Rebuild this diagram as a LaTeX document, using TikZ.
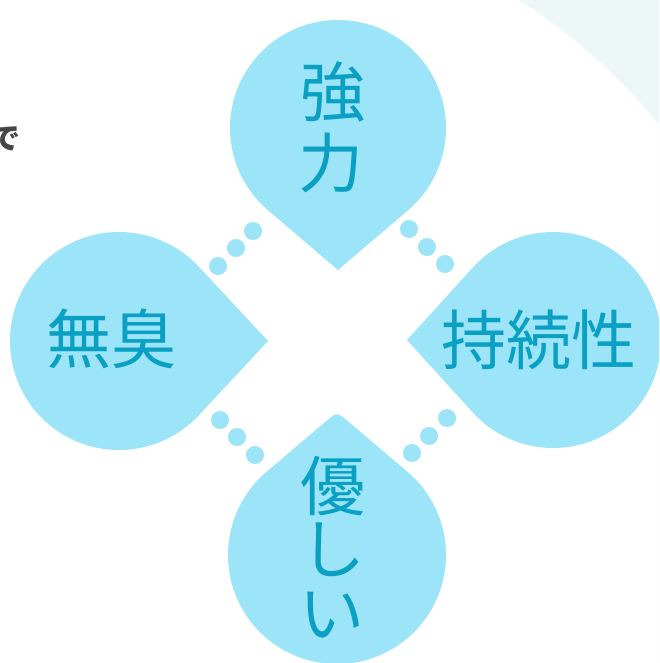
\documentclass[tikz,border=0pt]{standalone}
\usepackage{fontspec}
\newfontfamily\cjk{Noto Sans CJK JP}
\definecolor{dropc}{RGB}{156,228,248}
\definecolor{txtc}{RGB}{10,160,195}
\definecolor{bgc}{RGB}{238,247,247}
\definecolor{dtc}{RGB}{70,70,70}
\begin{document}
\begin{tikzpicture}[x=1pt,y=-1pt,
  dropfill/.style={fill=dropc},
  dot/.style={circle,fill=dropc,minimum size=18pt,inner sep=0pt},
  lbl/.style={font=\cjk\fontsize{65}{65}\selectfont, text=txtc, inner sep=0pt}]
\useasboundingbox (0,0) rectangle (659,663);
\begin{scope}
  \clip (0,0) rectangle (659,663);
  \fill[bgc, even odd rule] (0,0) rectangle (659,663) (200,500) circle[radius=593];
  % top drop
  \begin{scope}[shift={(338,128)}, rotate=-90]
    \fill[dropfill] (142,0) -- (40.5:108) arc[start angle=40.5, end angle=319.5, radius=108] -- cycle;
  \end{scope}
  % left drop
  \begin{scope}[shift={(119,341)}, rotate=0]
    \fill[dropfill] (149,0) -- (43:109) arc[start angle=43, end angle=317, radius=109] -- cycle;
  \end{scope}
  % right drop
  \begin{scope}[shift={(553,340)}, rotate=180]
    \fill[dropfill] (146,0) -- (42.3:108) arc[start angle=42.3, end angle=317.7, radius=108] -- cycle;
  \end{scope}
  % bottom drop (rounded tip)
  \begin{scope}[shift={(337,555)}, rotate=90]
    \fill[dropfill] (133.9,10.7) .. controls (143,0) .. (133.9,-10.7) -- (-40.3:109)
      arc[start angle=-40.3, end angle=-319.7, radius=109] -- cycle;
  \end{scope}
\end{scope}
% dots
\node[dot] (d1) at (253,231) {};
\node[dot] (d2) at (236,248) {};
\node[dot] (d3) at (218,266) {};
\node[dot] (d4) at (409,229) {};
\node[dot] (d5) at (427,247) {};
\node[dot] (d6) at (445,264) {};
\node[dot] (d7) at (220,420) {};
\node[dot] (d8) at (237,437) {};
\node[dot] (d9) at (255,455) {};
\node[dot] (d10) at (447,418) {};
\node[dot] (d11) at (429,436) {};
\node[dot] (d12) at (412,453) {};
% labels
\node[lbl] (t1) at (333,92) {強};
\node[lbl] (t2) at (331,163) {力};
\node[lbl] (l1) at (111,339) {無臭};
\node[lbl] (r1) at (539,340) {持続性};
\node[lbl] (b1) at (333,486) {優};
\node[lbl] (b2) at (333,550) {し};
\node[lbl] (b3) at (332,615) {い};
\node[font=\cjk\bfseries\fontsize{30}{30}\selectfont, text=dtc, inner sep=0pt, anchor=east] (de) at (21,139) {で};
\end{tikzpicture}
\end{document}
